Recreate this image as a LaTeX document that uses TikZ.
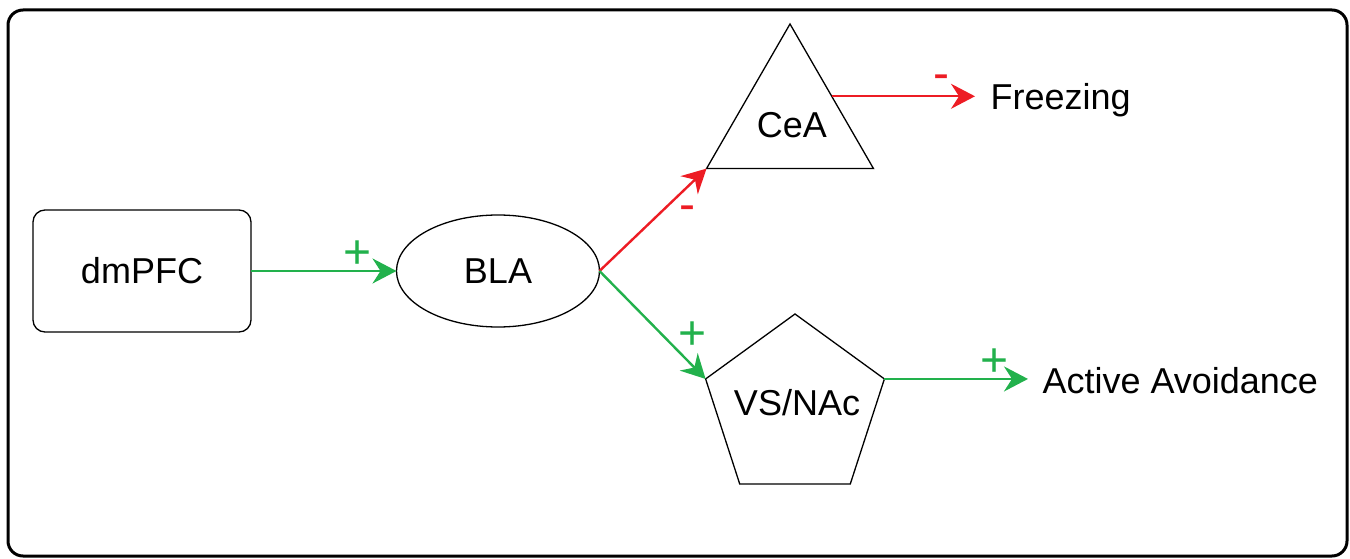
\documentclass[tikz,border=0pt]{standalone}
\usepackage{fontspec}
\setmainfont{Liberation Sans}
\usetikzlibrary{arrows.meta, calc, shapes.geometric}
\definecolor{excite}{RGB}{34,177,76}
\definecolor{inhibit}{RGB}{237,28,36}

\begin{document}
\begin{tikzpicture}[x=1pt,y=-1pt,
  region/.style={draw, line width=1.3pt, inner sep=0pt, outer sep=0pt, font=\fontsize{36}{42}\selectfont},
  tag/.style={font=\fontsize{36}{42}\selectfont},
  outcome/.style={anchor=west, font=\fontsize{36}{42}\selectfont},
  link/.style={line width=2.4pt, -{Stealth[length=24pt,width=25pt,inset=8pt]}},
  sign/.style={font=\fontsize{48}{48}\selectfont}]
\useasboundingbox (0,0) rectangle (1350,559);
% Outer frame
\draw[line width=3pt, rounded corners=15pt] (8,10) rectangle (1347,556);
% Regions
\node[region, rounded corners=12pt, minimum width=218pt, minimum height=122pt] (dmpfc) at (142,271) {dmPFC};
\node[region, ellipse, minimum width=203pt, minimum height=112pt] (bla) at (498,271) {BLA};
\node[region, regular polygon, regular polygon sides=3, minimum size=192.8pt] (cea) at (790,120.4) {};
\node[region, regular polygon, regular polygon sides=5, minimum size=188pt] (vsnac) at (795,408) {};
% Region names, set a little off the centres
\node[tag] (ceaname) at (792,125) {CeA};
\node[tag] (vsnacname) at (797,403) {VS/NAc};
% Behaviours
\node[outcome] (freeze) at (987,100) {Freezing};
\node[outcome] (avoid) at (1039,381) {Active Avoidance};
% Side of triangle where the output leaves
\coordinate (ceaside) at ($(cea.corner 1)!0.5!(cea.corner 3)$);
% Projections
\draw[link, excite] (dmpfc.east) -- node[sign, pos=0.73, yshift=16pt] {+} (bla.west);
\draw[link, inhibit] (bla.east) -- node[sign, pos=0.82, yshift=-26pt] {-} (cea.corner 2);
\draw[link, excite] (bla.east) -- node[sign, pos=0.88, yshift=30pt] {+} (vsnac.corner 2);
\draw[link, inhibit, shorten >=12pt] (ceaside) -- node[sign, pos=0.71, yshift=14pt] {-} (ceaside -| freeze.west);
\draw[link, excite, shorten >=11pt] (vsnac.corner 5) -- node[sign, pos=0.71, yshift=16pt] {+} (vsnac.corner 5 -| avoid.west);
\end{tikzpicture}
\end{document}
